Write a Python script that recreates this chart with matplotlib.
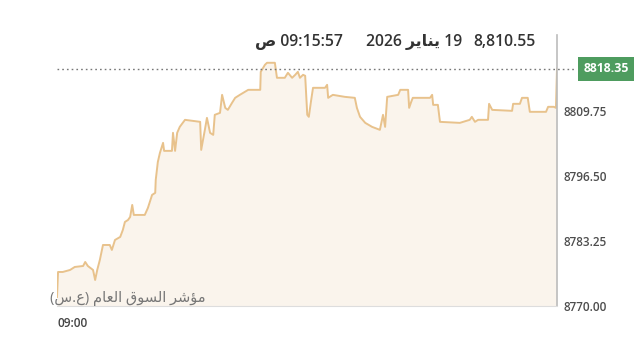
import matplotlib
matplotlib.use("Agg")
import matplotlib.pyplot as plt

# seconds after 09:00 and index level (TASI)
secs = [0, 2, 11, 25, 34, 50, 54, 59, 69, 73, 77, 82, 88, 101, 105, 111, 121, 126,
        130, 136, 140, 144, 147, 168, 174, 182, 188, 189, 193, 197, 203, 205, 220,
        222, 226, 230, 235, 245, 274, 276, 283, 287, 293, 299, 302, 312, 316, 322,
        327, 335, 341, 350, 366, 389, 390, 398, 402, 417, 421, 436, 442, 450, 456,
        461, 465, 471, 475, 479, 482, 486, 490, 513, 517, 519, 528, 551, 570, 574,
        580, 590, 603, 618, 624, 628, 632, 653, 657, 672, 674, 678, 681, 714, 718,
        720, 729, 733, 771, 790, 794, 800, 806, 825, 827, 833, 871, 873, 886, 890,
        901, 905, 936, 940, 951, 955, 957]
level = [8771.83, 8776.93, 8776.93, 8777.34, 8777.95, 8778.15, 8778.97, 8778.15,
         8777.34, 8775.30, 8777.34, 8779.38, 8782.43, 8782.43, 8781.42, 8783.45,
         8784.07, 8785.49, 8787.12, 8787.53, 8788.14, 8790.59, 8788.55, 8788.55,
         8789.98, 8792.63, 8793.04, 8795.69, 8799.35, 8801.19, 8803.23, 8801.60,
         8801.60, 8805.27, 8801.60, 8805.27, 8806.49, 8807.92, 8807.51, 8801.80,
         8805.88, 8808.32, 8805.27, 8804.86, 8808.94, 8809.34, 8813.01, 8810.36,
         8809.95, 8811.38, 8812.40, 8813.01, 8814.03, 8814.03, 8817.70, 8819.13,
         8819.54, 8819.54, 8816.48, 8816.48, 8817.50, 8816.48, 8817.09, 8817.70,
         8816.48, 8817.09, 8816.89, 8808.94, 8808.53, 8811.59, 8814.44, 8814.44,
         8815.05, 8812.40, 8813.01, 8812.60, 8812.40, 8810.36, 8808.53, 8807.30,
         8806.49, 8805.88, 8808.94, 8806.49, 8812.60, 8813.01, 8814.03, 8814.03,
         8810.36, 8811.59, 8812.40, 8812.40, 8813.01, 8810.97, 8810.97, 8807.51,
         8807.30, 8807.92, 8808.53, 8807.51, 8807.92, 8807.92, 8811.18, 8809.95,
         8809.75, 8811.18, 8811.18, 8812.40, 8812.40, 8809.55, 8809.55, 8810.57,
         8810.57, 8810.36, 8818.35]

y_ticks = [8770.00, 8783.25, 8796.50, 8809.75]
last_value = 8818.35
x_label = "09:00"

# Arabic written in presentation forms, visual order (matplotlib does no shaping)
hdr_time = "\uFEB9 09:15:57"                                   # 09:15:57 ص
hdr_date = "2026 \uFEAE\uFEF3\uFE8E\uFEE8\uFEF3 19"            # 19 يناير 2026
hdr_value = "8,810.55"
index_name = ("(\uFEB1.\uFEC9) \uFEE1\uFE8E\uFECC\uFEDF\uFE8D "
              "\uFED5\uFEEE\uFEB4\uFEDF\uFE8D \uFEAE\uFEB7\uFE86\uFEE3")  # مؤشر السوق العام (ع.س)

fonts = ["Open Sans", "DejaVu Sans"]
line_col = "#e8c28c"
fill_col = "#faf4ec"

fig = plt.figure(figsize=(6.4, 3.48), dpi=100)
ax = fig.add_axes([57 / 640, 1 - 306 / 348, 500 / 640, 271 / 348])

ax.fill_between(secs, level, 8760, color=fill_col, linewidth=0)
ax.plot(secs, level, color=line_col, linewidth=1.4)
ax.axhline(last_value, xmin=0, xmax=518 / 500, color="#777777", linestyle=(0, (1.2, 2.2)),
           linewidth=1, clip_on=False)

ax.set_xlim(0, 957)
ax.set_ylim(8770, 8825.2)

for s in ["top", "left"]:
    ax.spines[s].set_visible(False)
ax.spines["right"].set_color("#bcbcbc")
ax.spines["right"].set_linewidth(1.2)
ax.spines["bottom"].set_color("#dddddd")

ax.yaxis.tick_right()
ax.set_yticks(y_ticks)
ax.set_yticklabels(["%.2f" % v for v in y_ticks], fontsize=8.5, color="#4d4d4d",
                   fontweight="semibold", family=fonts)
ax.tick_params(axis="y", length=0, pad=5)
ax.set_xticks([0])
ax.set_xticklabels([x_label], fontsize=8.5, color="#444444", fontweight="semibold",
                   family=fonts, ha="left")
ax.tick_params(axis="x", length=0, pad=8)

# last value badge
ax.text(1.0 + 49 / 500, last_value, "%.2f" % last_value, transform=ax.get_yaxis_transform(),
        ha="center", va="center", fontsize=8.8, color="white", fontweight="bold", family=fonts,
        bbox=dict(boxstyle="square,pad=0.45", facecolor="#4e9c5f", edgecolor="none"),
        clip_on=False)

# header
fig.text(343 / 640, 1 - 42 / 348, hdr_time, ha="right", va="center", fontsize=11.3,
         color="#333333", fontweight="semibold", family=fonts)
fig.text(462 / 640, 1 - 42 / 348, hdr_date, ha="right", va="center", fontsize=11.3,
         color="#333333", fontweight="semibold", family=fonts)
fig.text(536 / 640, 1 - 42 / 348, hdr_value, ha="right", va="center", fontsize=11.3,
         color="#333333", fontweight="semibold", family=fonts)

fig.text(50 / 640, 1 - 299 / 348, index_name, ha="left", va="center", fontsize=10.5,
         color="#777777", family=fonts)

fig.savefig("out.png", dpi=100, facecolor="white")
